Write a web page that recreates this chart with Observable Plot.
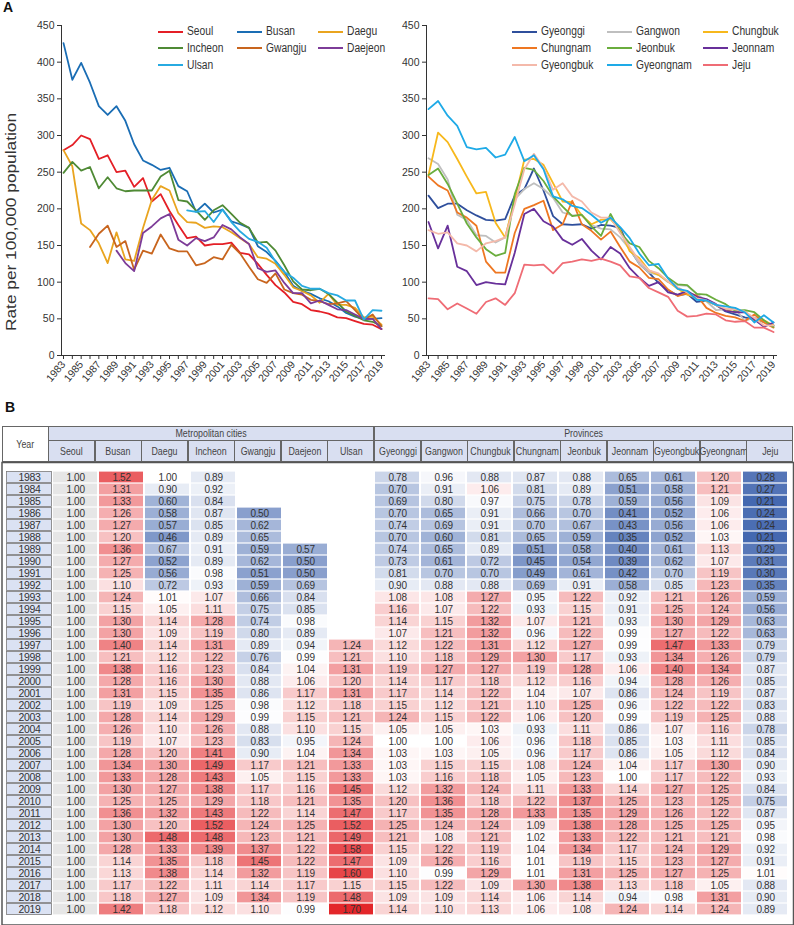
<!DOCTYPE html>
<html><head><meta charset="utf-8">
<script src="https://cdn.jsdelivr.net/npm/d3@7"></script>
<script src="https://cdn.jsdelivr.net/npm/@observablehq/plot@0.6"></script>
<style>
body{margin:0;background:#fff;}
#root{position:relative;width:794px;height:925px;overflow:hidden;font-family:"Liberation Sans",Arial,sans-serif;background:#fff;}
.abs{position:absolute;}
.panel{position:absolute;font-weight:bold;font-size:14px;color:#111;}
.lg-line{position:absolute;height:2px;}
.lg-text{position:absolute;font-family:"Liberation Sans",Arial,sans-serif;font-size:12.5px;color:#333;line-height:14px;white-space:nowrap;transform:scaleX(0.82);transform-origin:0 50%;}
.hd{position:absolute;box-sizing:border-box;border:1px solid #666;background:#d9dff1;display:flex;align-items:center;justify-content:center;font-family:"Liberation Sans",Arial,sans-serif;font-size:11.2px;color:#444;white-space:nowrap;overflow:visible;}
.hd span{display:inline-block;transform:scaleX(0.79);transform-origin:50% 50%;}
</style></head><body><div id="root"></div><script>
const years = [1983,1984,1985,1986,1987,1988,1989,1990,1991,1992,1993,1994,1995,1996,1997,1998,1999,2000,2001,2002,2003,2004,2005,2006,2007,2008,2009,2010,2011,2012,2013,2014,2015,2016,2017,2018,2019];
const xTickLabels = [1983,1985,1987,1989,1991,1993,1995,1997,1999,2001,2003,2005,2007,2009,2011,2013,2015,2017,2019];
const yTicks = [0,50,100,150,200,250,300,350,400,450];
const metroCities = ["Seoul","Busan","Daegu","Incheon","Gwangju","Daejeon","Ulsan"];
const provinces = ["Gyeonggi","Gangwon","Chungbuk","Chungnam","Jeonbuk","Jeonnam","Gyeongbuk","Gyeongnam","Jeju"];
const metroColors = ["#e41f26","#1a6db4","#e9a41f","#4f8a35","#c8651e","#7d3c98","#27aae1"];
const provinceColors = ["#2f4f9c","#bfbfbf","#f7b81c","#ee7722","#6aad3d","#68309a","#f4b9aa","#1eaae7","#ef6c75"];

// Rates per 100,000 (panel A)
const rateSeoul = [280,287,300,295,268,273,250,252,230,242,210,220,197,178,160,162,150,152,152,154,140,138,125,110,96,86,73,70,62,60,57,52,51,47,43,42,36];
const rateBusan = [426,376,399,372,340,328,340,320,288,266,260,253,256,231,224,196,207,195,199,183,179,174,149,141,129,114,95,88,84,78,74,67,58,53,50,50,51];
const rateDaegu = [280,258,180,171,153,126,168,131,129,174,212,231,225,194,182,181,174,176,175,168,160,152,134,132,125,110,93,88,82,72,84,69,69,65,52,53,42];
const rateIncheon = [249,264,252,257,228,243,228,224,225,225,225,244,252,212,210,198,185,198,205,193,181,174,154,155,143,123,101,90,89,91,84,72,60,54,48,46,40];
const rateGwangju = [null,null,null,148,166,177,148,156,117,143,139,165,146,142,142,123,126,134,131,151,139,121,104,99,112,90,85,83,76,74,70,71,74,62,49,56,40];
const rateDaejeon = [null,null,null,null,null,null,143,126,115,167,176,187,193,158,150,160,156,161,178,172,161,152,119,114,116,99,85,85,71,75,69,63,62,56,50,50,36];
const rateUlsan = [null,null,null,null,null,null,null,null,null,null,null,null,null,null,198,196,197,182,199,182,169,159,155,147,128,114,106,95,91,91,85,82,75,75,49,62,61];
const rateGyeonggi = [218,201,207,207,198,191,185,184,186,218,227,255,225,190,179,178,179,173,178,177,174,145,125,113,99,89,82,84,73,75,69,60,56,52,49,46,41];
const rateGangwon = [269,261,240,192,185,164,163,154,161,213,227,235,227,215,195,191,191,178,173,172,161,145,125,113,110,100,96,95,84,74,62,63,64,47,52,46,40];
const rateChungbuk = [246,304,291,268,244,221,223,181,161,213,267,268,260,235,210,209,191,179,185,186,171,142,133,116,110,101,91,83,79,74,69,62,59,61,47,48,41];
const rateChungnam = [244,232,225,195,188,177,128,113,113,167,200,205,211,171,179,211,179,170,158,169,148,128,120,106,104,90,81,85,82,65,58,54,52,47,56,45,38];
const rateJeonbuk = [246,255,234,207,180,161,145,136,140,220,256,253,238,217,203,190,192,176,163,193,168,153,148,129,119,106,97,96,84,83,76,70,61,62,59,48,39];
const rateJeonnam = [182,146,177,121,115,96,100,98,97,140,193,200,183,176,158,151,159,143,131,148,139,119,106,95,100,86,83,88,80,77,70,61,59,59,49,39,45];
const rateGyeongbuk = [171,166,168,153,150,142,153,156,161,206,254,275,256,226,235,217,210,195,188,188,167,148,129,116,112,101,93,86,78,75,69,64,63,60,51,41,41];
const rateGyeongnam = [336,347,327,313,284,281,283,270,274,298,265,273,254,217,213,204,201,192,181,188,175,160,139,123,125,105,91,88,76,75,69,67,65,59,45,55,45];
const rateJeju = [78,77,63,71,64,57,73,78,69,85,124,123,124,112,126,128,131,129,132,128,123,108,106,92,86,80,61,53,54,57,56,48,46,47,38,38,32];

// Ratios to Seoul (panel B)
const ratioSeoul = [1.00,1.00,1.00,1.00,1.00,1.00,1.00,1.00,1.00,1.00,1.00,1.00,1.00,1.00,1.00,1.00,1.00,1.00,1.00,1.00,1.00,1.00,1.00,1.00,1.00,1.00,1.00,1.00,1.00,1.00,1.00,1.00,1.00,1.00,1.00,1.00,1.00];
const ratioBusan = [1.52,1.31,1.33,1.26,1.27,1.20,1.36,1.27,1.25,1.10,1.24,1.15,1.30,1.30,1.40,1.21,1.38,1.28,1.31,1.19,1.28,1.26,1.19,1.28,1.34,1.33,1.30,1.25,1.36,1.30,1.30,1.28,1.14,1.13,1.17,1.18,1.42];
const ratioDaegu = [1.00,0.90,0.60,0.58,0.57,0.46,0.67,0.52,0.56,0.72,1.01,1.05,1.14,1.09,1.14,1.12,1.16,1.16,1.15,1.09,1.14,1.10,1.07,1.20,1.30,1.28,1.27,1.25,1.32,1.20,1.48,1.33,1.35,1.38,1.22,1.27,1.18];
const ratioIncheon = [0.89,0.92,0.84,0.87,0.85,0.89,0.91,0.89,0.98,0.93,1.07,1.11,1.28,1.19,1.31,1.22,1.23,1.30,1.35,1.25,1.29,1.26,1.23,1.41,1.49,1.43,1.38,1.29,1.43,1.52,1.48,1.39,1.18,1.14,1.11,1.09,1.12];
const ratioGwangju = [null,null,null,0.50,0.62,0.65,0.59,0.62,0.51,0.59,0.66,0.75,0.74,0.80,0.89,0.76,0.84,0.88,0.86,0.98,0.99,0.88,0.83,0.90,1.17,1.05,1.17,1.18,1.22,1.24,1.23,1.37,1.45,1.32,1.14,1.34,1.10];
const ratioDaejeon = [null,null,null,null,null,null,0.57,0.50,0.50,0.69,0.84,0.85,0.98,0.89,0.94,0.99,1.04,1.06,1.17,1.12,1.15,1.10,0.95,1.04,1.21,1.15,1.16,1.21,1.14,1.25,1.21,1.22,1.22,1.19,1.17,1.19,0.99];
const ratioUlsan = [null,null,null,null,null,null,null,null,null,null,null,null,null,null,1.24,1.21,1.31,1.20,1.31,1.18,1.21,1.15,1.24,1.34,1.33,1.33,1.45,1.35,1.47,1.52,1.49,1.58,1.47,1.60,1.15,1.48,1.70];
const ratioGyeonggi = [0.78,0.70,0.69,0.70,0.74,0.70,0.74,0.73,0.81,0.90,1.08,1.16,1.14,1.07,1.12,1.10,1.19,1.14,1.17,1.15,1.24,1.05,1.00,1.03,1.03,1.03,1.12,1.20,1.17,1.25,1.21,1.15,1.09,1.10,1.15,1.09,1.14];
const ratioGangwon = [0.96,0.91,0.80,0.65,0.69,0.60,0.65,0.61,0.70,0.88,1.08,1.07,1.15,1.21,1.22,1.18,1.27,1.17,1.14,1.12,1.15,1.05,1.00,1.03,1.15,1.16,1.32,1.36,1.35,1.24,1.08,1.22,1.26,0.99,1.22,1.09,1.10];
const ratioChungbuk = [0.88,1.06,0.97,0.91,0.91,0.81,0.89,0.72,0.70,0.88,1.27,1.22,1.32,1.32,1.31,1.29,1.27,1.18,1.22,1.21,1.22,1.03,1.06,1.05,1.15,1.18,1.24,1.18,1.28,1.24,1.21,1.19,1.16,1.29,1.09,1.14,1.13];
const ratioChungnam = [0.87,0.81,0.75,0.66,0.70,0.65,0.51,0.45,0.49,0.69,0.95,0.93,1.07,0.96,1.12,1.30,1.19,1.12,1.04,1.10,1.06,0.93,0.96,0.96,1.08,1.05,1.11,1.22,1.33,1.09,1.02,1.04,1.01,1.01,1.30,1.06,1.06];
const ratioJeonbuk = [0.88,0.89,0.78,0.70,0.67,0.59,0.58,0.54,0.61,0.91,1.22,1.15,1.21,1.22,1.27,1.17,1.28,1.16,1.07,1.25,1.20,1.11,1.18,1.17,1.24,1.23,1.33,1.37,1.35,1.38,1.33,1.34,1.19,1.31,1.38,1.14,1.08];
const ratioJeonnam = [0.65,0.51,0.59,0.41,0.43,0.35,0.40,0.39,0.42,0.58,0.92,0.91,0.93,0.99,0.99,0.93,1.06,0.94,0.86,0.96,0.99,0.86,0.85,0.86,1.04,1.00,1.14,1.25,1.29,1.28,1.22,1.17,1.15,1.25,1.13,0.94,1.24];
const ratioGyeongbuk = [0.61,0.58,0.56,0.52,0.56,0.52,0.61,0.62,0.70,0.85,1.21,1.25,1.30,1.27,1.47,1.34,1.40,1.28,1.24,1.22,1.19,1.07,1.03,1.05,1.17,1.17,1.27,1.23,1.26,1.25,1.21,1.24,1.23,1.27,1.18,0.98,1.14];
const ratioGyeongnam = [1.20,1.21,1.09,1.06,1.06,1.03,1.13,1.07,1.19,1.23,1.26,1.24,1.29,1.22,1.33,1.26,1.34,1.26,1.19,1.22,1.25,1.16,1.11,1.12,1.30,1.22,1.25,1.25,1.22,1.25,1.21,1.29,1.27,1.25,1.05,1.31,1.24];
const ratioJeju = [0.28,0.27,0.21,0.24,0.24,0.21,0.29,0.31,0.30,0.35,0.59,0.56,0.63,0.63,0.79,0.79,0.87,0.85,0.87,0.83,0.88,0.78,0.85,0.84,0.90,0.93,0.84,0.75,0.87,0.95,0.98,0.92,0.91,1.01,0.88,0.90,0.89];

const metroRates = [rateSeoul,rateBusan,rateDaegu,rateIncheon,rateGwangju,rateDaejeon,rateUlsan];
const provRates = [rateGyeonggi,rateGangwon,rateChungbuk,rateChungnam,rateJeonbuk,rateJeonnam,rateGyeongbuk,rateGyeongnam,rateJeju];
const allRatios = [ratioSeoul,ratioBusan,ratioDaegu,ratioIncheon,ratioGwangju,ratioDaejeon,ratioUlsan,ratioGyeonggi,ratioGangwon,ratioChungbuk,ratioChungnam,ratioJeonbuk,ratioJeonnam,ratioGyeongbuk,ratioGyeongnam,ratioJeju];
const allRegions = [...metroCities, ...provinces];

function longRows(names, arrays){
  const out=[];
  names.forEach((n,k)=>arrays[k].forEach((v,i)=>{ if(v!=null) out.push({region:n, year:years[i], value:v}); }));
  return out;
}

const root = document.getElementById("root");
function place(el, left, top){ const d=document.createElement("div"); d.className="abs"; d.style.left=left+"px"; d.style.top=top+"px"; d.appendChild(el); root.appendChild(d); return d; }

const axisFont = {fontFamily:"'Liberation Sans', Arial, sans-serif", fontSize:"10.5px", color:"#333", background:"transparent", overflow:"visible"};

function linePlot(names, arrays, colors, opts){
  return Plot.plot({
    width: opts.width, height: 380,
    marginLeft: opts.ml, marginRight: opts.mr, marginTop: 25, marginBottom: 25,
    x: {type:"linear", domain:[1983,2019], insetLeft: 2, insetRight: 3},
    y: {domain:[0,450]},
    color: {domain: names, range: colors},
    style: axisFont,
    marks: [
      Plot.frame({anchor:"left", stroke:"#333"}),
      Plot.frame({anchor:"bottom", stroke:"#333"}),
      Plot.axisY({ticks: yTicks, tickSize: 4, tickPadding: 3, label: null}),
      Plot.axisX({ticks: years, tickSize: 4, tickFormat: () => "", label: null}),
      Plot.axisX({ticks: xTickLabels, tickSize: 0, tickPadding: 7, tickRotate: -50, tickFormat: d => String(d), label: null}),
      Plot.line(longRows(names, arrays), {x:"year", y:"value", z:"region", stroke:"region", strokeWidth: 1.8})
    ]
  });
}

place(linePlot(metroCities, metroRates, metroColors, {width:390, ml:61, mr:6}), 0, 0);
place(linePlot(provinces, provRates, provinceColors, {width:404, ml:36, mr:18}), 390, 0);

// y title
const ns="http://www.w3.org/2000/svg";
const ts=document.createElementNS(ns,"svg"); ts.setAttribute("width","26"); ts.setAttribute("height","380");
const tt=document.createElementNS(ns,"text");
tt.setAttribute("transform","translate(16,222) rotate(-90)"); tt.setAttribute("text-anchor","middle");
tt.setAttribute("textLength","218"); tt.setAttribute("lengthAdjust","spacingAndGlyphs");
tt.setAttribute("font-size","15.5"); tt.setAttribute("fill","#333"); tt.setAttribute("font-family","Liberation Sans, Arial, sans-serif");
tt.textContent="Rate per 100,000 population"; ts.appendChild(tt);
place(ts, 0, 0);

// legends
function legend(names, colors, lineX, rowY){
  names.forEach((n,i)=>{
    const c=i%3, r=Math.floor(i/3);
    const ln=document.createElement("div"); ln.className="lg-line"; ln.style.background=colors[i];
    ln.style.left=lineX[c]+"px"; ln.style.top=(rowY[r]-1)+"px"; ln.style.width="25px"; root.appendChild(ln);
    const tx=document.createElement("div"); tx.className="lg-text"; tx.textContent=n;
    tx.style.left=(lineX[c]+29)+"px"; tx.style.top=(rowY[r]-7.5)+"px"; root.appendChild(tx);
  });
}
legend(metroCities, metroColors, [158,237,318], [31.5,48,65]);
legend(provinces, provinceColors, [512,607,703], [31.5,48,65]);

// panel letters
const la=document.createElement("div"); la.className="panel"; la.textContent="A"; la.style.left="3px"; la.style.top="-1px"; root.appendChild(la);
const lb=document.createElement("div"); lb.className="panel"; lb.textContent="B"; lb.style.left="5px"; lb.style.top="399px"; root.appendChild(lb);

// table header (HTML)
const colW = (793-1.5)/17, x0 = 1.5, hTop = 426, hMid = 439.5, hBot = 462;
function hcell(text, left, top, w, h, bg){
  const d=document.createElement("div"); d.className="hd";
  const s=document.createElement("span"); s.textContent=text; d.appendChild(s);
  d.style.left=left+"px"; d.style.top=top+"px"; d.style.width=w+"px"; d.style.height=h+"px";
  if(bg) d.style.background=bg; root.appendChild(d);
}
hcell("Year", x0, hTop, colW+0.5, hBot-hTop, "#ffffff");
hcell("Metropolitan cities", x0+colW, hTop, 7*colW+0.5, hMid-hTop+1);
hcell("Provinces", x0+8*colW, hTop, 9*colW, hMid-hTop+1);
allRegions.forEach((n,i)=>hcell(n, x0+(i+1)*colW, hMid, colW+0.5, hBot-hMid));

// heatmap body
const yearRows = years.map(y=>({col:"Year", yl:String(y)}));
const cells = [];
allRegions.forEach((n,k)=>allRatios[k].forEach((v,i)=>{ if(v!=null) cells.push({col:n, yl:String(years[i]), v}); }));
const seoulCells = cells.filter(d=>d.col==="Seoul");
const otherCells = cells.filter(d=>d.col!=="Seoul");
const cellFont = "'Liberation Sans', Arial, sans-serif";

const heat = Plot.plot({
  width: 794, height: 463,
  marginLeft: 1.5, marginRight: 1, marginTop: 0, marginBottom: 0.5,
  x: {type:"band", domain:["Year", ...allRegions], padding:0, axis:null},
  y: {type:"band", domain: years.map(String), padding:0, axis:null},
  color: {type:"linear", domain:[0.21,1,1.70], range:["#4468b0","#ffffff","#e3262a"]},
  style: {background:"transparent", overflow:"visible", letterSpacing:"-0.3px"},
  marks: [
    Plot.cell(yearRows, {x:"col", y:"yl", fill:"#dbe2f3", stroke:"#7a7a7a", strokeWidth:0.8, insetTop:0.5, insetBottom:0.5, insetLeft:0.5, insetRight:0.5}),
    Plot.text(yearRows, {x:"col", y:"yl", text:"yl", fill:"#333", fontSize:10.5, fontFamily:cellFont}),
    Plot.cell(seoulCells, {x:"col", y:"yl", fill:"#e6e6e6", insetTop:0.6, insetBottom:0.6, insetLeft:1, insetRight:1}),
    Plot.cell(otherCells, {x:"col", y:"yl", fill:"v", insetTop:0.6, insetBottom:0.6, insetLeft:1, insetRight:1}),
    Plot.text(cells, {x:"col", y:"yl", text:d=>d.v.toFixed(2), fill:"#333", fontSize:10, fontFamily:cellFont}),
    Plot.frame({stroke:"#555", strokeWidth:1.5})
  ]
});
place(heat, 0, hBot);
</script></body></html>
